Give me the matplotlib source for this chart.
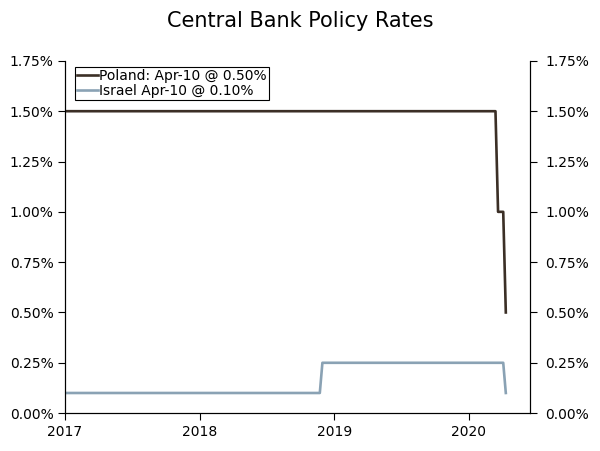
import matplotlib
matplotlib.use("Agg")
import matplotlib.pyplot as plt
import pandas as pd

# Weekly observations around each policy change
poland_dates = ["2017-01-01", "2020-03-13", "2020-03-20", "2020-04-03", "2020-04-10"]
poland_rate = [1.50, 1.50, 1.00, 1.00, 0.50]
israel_dates = ["2017-01-01", "2018-11-23", "2018-11-30", "2020-04-03", "2020-04-10"]
israel_rate = [0.10, 0.10, 0.25, 0.25, 0.10]

y_ticks = [0.0, 0.25, 0.5, 0.75, 1.0, 1.25, 1.5, 1.75]
x_years = [2017, 2018, 2019, 2020]

plt.rcParams["font.family"] = ["DejaVu Sans"]

fig = plt.figure(figsize=(6, 4.51), dpi=100)
ax = fig.add_axes([0.108, 0.084, 0.775, 0.781])

ax.plot(pd.to_datetime(poland_dates), poland_rate, color="#3b2f26", lw=1.9,
        label="Poland: Apr-10 @ 0.50%")
ax.plot(pd.to_datetime(israel_dates), israel_rate, color="#8aa2b4", lw=1.9,
        label="Israel Apr-10 @ 0.10%")

ax.set_xlim(pd.Timestamp("2017-01-01"), pd.Timestamp("2020-06-14"))
ax.set_ylim(0, 1.75)
ax.set_yticks(y_ticks)
ax.set_yticklabels([f"{v:.2f}%" for v in y_ticks])
ax.set_xticks([pd.Timestamp(f"{y}-01-01") for y in x_years])
ax.set_xticklabels([str(y) for y in x_years])

ax.spines["top"].set_visible(False)
for s in ("left", "right", "bottom"):
    ax.spines[s].set_color("black")
    ax.spines[s].set_linewidth(0.8)
ax.tick_params(axis="both", direction="out", length=5, width=0.8, labelsize=10)
ax.tick_params(axis="y", pad=3)

ax2 = ax.twinx()
ax2.set_ylim(0, 1.75)
ax2.set_yticks(y_ticks)
ax2.set_yticklabels([f"{v:.2f}%" for v in y_ticks])
ax2.spines["top"].set_visible(False)
ax2.tick_params(axis="y", direction="out", length=5, width=0.8, labelsize=10, pad=6)

leg = ax.legend(loc="upper left", bbox_to_anchor=(0.022, 0.983), fontsize=10,
                frameon=True, fancybox=False, edgecolor="black", framealpha=1,
                handlelength=1.5, handletextpad=0.1, borderpad=0.15,
                borderaxespad=0, labelspacing=0.05)
leg.get_frame().set_linewidth(0.8)

fig.suptitle("Central Bank Policy Rates", y=0.975, fontsize=15)

fig.savefig("out.png", dpi=100)
